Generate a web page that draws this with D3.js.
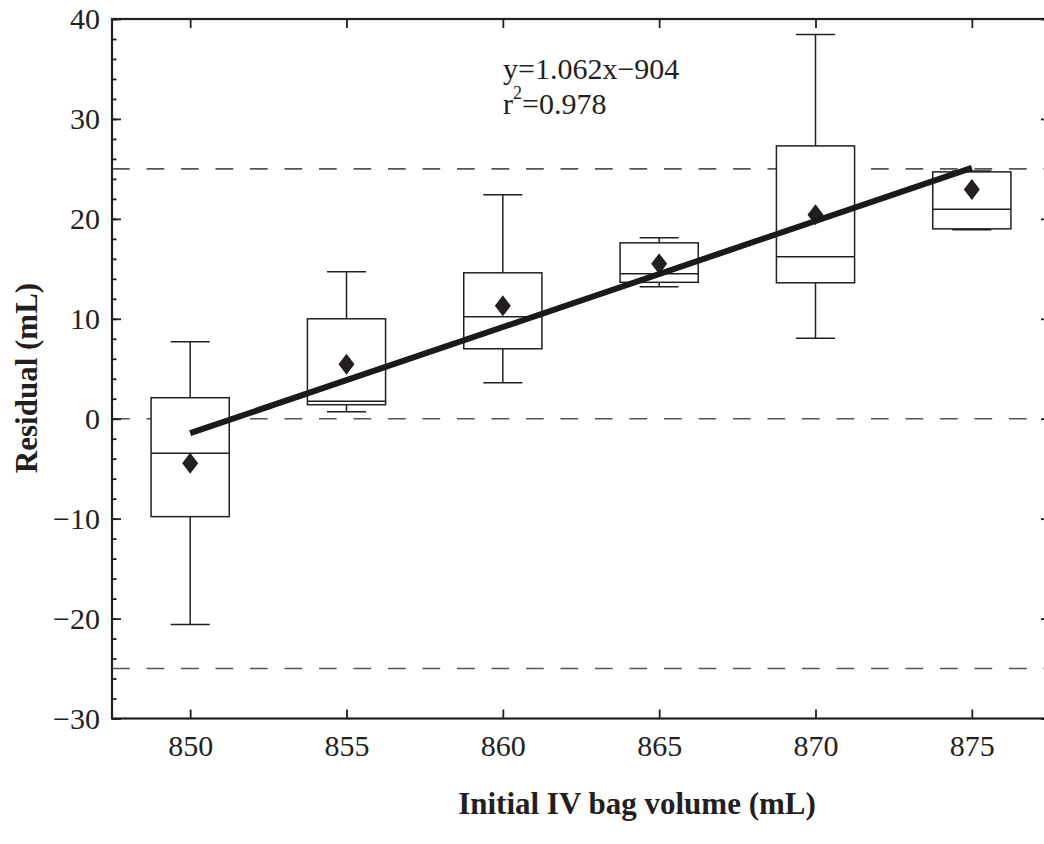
<!DOCTYPE html>
<html>
<head>
<meta charset="utf-8">
<script src="https://cdn.jsdelivr.net/npm/d3@7"></script>
<style>
  html, body { margin: 0; padding: 0; background: #fff; overflow: hidden; }
  svg { display: block; }
  svg text { font-family: "Liberation Serif", "Times New Roman", serif; fill: #231f20; }
</style>
</head>
<body>
<div id="chart"></div>
<script>
// box plot summaries per initial bag volume
const volumes = [850, 855, 860, 865, 870, 875];
const whiskerLow = [-20.6, 0.7, 3.6, 13.2, 8.05, 18.9];
const q1 = [-9.8, 1.4, 7.0, 13.65, 13.6, 19.0];
const medians = [-3.45, 1.75, 10.2, 14.5, 16.2, 20.95];
const q3 = [2.1, 10.0, 14.6, 17.6, 27.3, 24.7];
const whiskerHigh = [7.7, 14.7, 22.4, 18.1, 38.45, 24.8];
const means = [-4.45, 5.45, 11.3, 15.5, 20.4, 22.95];

// regression fit
const fitSlope = 1.062;
const fitIntercept = -904.15;
const fitRange = [850, 875];

const refLines = [25, 0, -25];
const xTicks = [850, 855, 860, 865, 870, 875];
const yTicks = [-30, -20, -10, 0, 10, 20, 30, 40];
const yMinorTicks = d3.range(-30, 41, 2);

const width = 1044, height = 844;
const ink = "#231f20";

const x = d3.scaleLinear().domain([847.5, 877.5]).range([112, 1050]);
const y = d3.scaleLinear().domain([-30, 40]).range([718.5, 19]);

const svg = d3.select("#chart")
    .append("svg")
    .attr("width", width)
    .attr("height", height);

const fmt = d => d < 0 ? "\u2212" + Math.abs(d) : String(d);

// dashed reference lines
svg.append("g")
    .selectAll("line")
    .data(refLines)
    .enter()
    .append("line")
    .attr("x1", x.range()[0])
    .attr("x2", x.range()[1])
    .attr("y1", d => y(d))
    .attr("y2", d => y(d))
    .attr("stroke", "#555")
    .attr("stroke-width", 1.6)
    .attr("stroke-dasharray", "17.7,16.8");

// boxes
const boxW = 1.25, capW = 0.625;
const boxes = svg.append("g")
    .selectAll("g")
    .data(volumes.map((v, i) => ({v, lo: whiskerLow[i], q1: q1[i], med: medians[i], q3: q3[i], hi: whiskerHigh[i], mean: means[i]})))
    .enter()
    .append("g")
    .attr("stroke", ink)
    .attr("stroke-width", 1.5)
    .attr("fill", "none");

boxes.append("line")
    .attr("x1", d => x(d.v)).attr("x2", d => x(d.v))
    .attr("y1", d => y(d.q3)).attr("y2", d => y(d.hi));
boxes.append("line")
    .attr("x1", d => x(d.v)).attr("x2", d => x(d.v))
    .attr("y1", d => y(d.q1)).attr("y2", d => y(d.lo));
boxes.append("line")
    .attr("x1", d => x(d.v - capW)).attr("x2", d => x(d.v + capW))
    .attr("y1", d => y(d.hi)).attr("y2", d => y(d.hi));
boxes.append("line")
    .attr("x1", d => x(d.v - capW)).attr("x2", d => x(d.v + capW))
    .attr("y1", d => y(d.lo)).attr("y2", d => y(d.lo));
boxes.append("rect")
    .attr("x", d => x(d.v - boxW))
    .attr("width", d => x(d.v + boxW) - x(d.v - boxW))
    .attr("y", d => y(d.q3))
    .attr("height", d => y(d.q1) - y(d.q3))
    .attr("fill", "#fff");
boxes.append("line")
    .attr("x1", d => x(d.v - boxW)).attr("x2", d => x(d.v + boxW))
    .attr("y1", d => y(d.med)).attr("y2", d => y(d.med));

// mean diamonds
boxes.append("path")
    .attr("d", d => {
        const cx = x(d.v), cy = y(d.mean);
        return "M" + cx + "," + (cy - 10.5) + "L" + (cx + 8) + "," + cy +
            "L" + cx + "," + (cy + 10.5) + "L" + (cx - 8) + "," + cy + "Z";
    })
    .attr("fill", ink)
    .attr("stroke", "none");

// fit line
svg.append("line")
    .attr("x1", x(fitRange[0]))
    .attr("y1", y(fitSlope * fitRange[0] + fitIntercept))
    .attr("x2", x(fitRange[1]))
    .attr("y2", y(fitSlope * fitRange[1] + fitIntercept))
    .attr("stroke", "#1a1a1a")
    .attr("stroke-width", 6);

// axes with inward ticks
const axisStyle = g => {
    g.select(".domain").remove();
    g.selectAll("line").attr("stroke", ink).attr("stroke-width", 1.8);
    g.selectAll("text").attr("font-size", 30).attr("fill", ink)
        .attr("font-family", '"Liberation Serif", "Times New Roman", serif');
};

svg.append("g")
    .attr("transform", "translate(0," + y.range()[0] + ")")
    .call(d3.axisBottom(x).tickValues(xTicks).tickFormat(fmt)
        .tickSizeInner(-9).tickSizeOuter(0).tickPadding(16))
    .call(axisStyle);
svg.append("g")
    .attr("transform", "translate(0," + y.range()[1] + ")")
    .call(d3.axisTop(x).tickValues(xTicks).tickFormat("")
        .tickSizeInner(-9).tickSizeOuter(0))
    .call(axisStyle);

svg.append("g")
    .attr("transform", "translate(" + x.range()[0] + ",0)")
    .call(d3.axisLeft(y).tickValues(yTicks).tickFormat(fmt)
        .tickSizeInner(-9).tickSizeOuter(0).tickPadding(12))
    .call(axisStyle);
svg.append("g")
    .attr("transform", "translate(" + x.range()[0] + ",0)")
    .call(d3.axisLeft(y).tickValues(yMinorTicks).tickFormat("")
        .tickSizeInner(-4.5).tickSizeOuter(0))
    .call(axisStyle);
svg.append("g")
    .attr("transform", "translate(" + x.range()[1] + ",0)")
    .call(d3.axisRight(y).tickValues(yTicks).tickFormat("")
        .tickSizeInner(-9).tickSizeOuter(0))
    .call(axisStyle);
svg.append("g")
    .attr("transform", "translate(" + x.range()[1] + ",0)")
    .call(d3.axisRight(y).tickValues(yMinorTicks).tickFormat("")
        .tickSizeInner(-4.5).tickSizeOuter(0))
    .call(axisStyle);

// frame
svg.append("rect")
    .attr("x", x.range()[0])
    .attr("y", y.range()[1])
    .attr("width", x.range()[1] - x.range()[0])
    .attr("height", y.range()[0] - y.range()[1])
    .attr("fill", "none")
    .attr("stroke", ink)
    .attr("stroke-width", 2.2);

// equation
const eq = svg.append("g").attr("font-size", 30);
eq.append("text").attr("x", 503).attr("y", 79).text("y=1.062x\u2212904");
const r2 = eq.append("text").attr("x", 503).attr("y", 114);
r2.append("tspan").text("r");
r2.append("tspan").attr("font-size", 18).attr("dy", -15).text("2");
r2.append("tspan").attr("dy", 15).text("=0.978");

// axis titles
svg.append("text")
    .attr("x", 637)
    .attr("y", 814)
    .attr("text-anchor", "middle")
    .attr("font-size", 31)
    .attr("font-weight", "bold")
    .text("Initial IV bag volume (mL)");

svg.append("text")
    .attr("transform", "translate(37,378) rotate(-90)")
    .attr("text-anchor", "middle")
    .attr("font-size", 31)
    .attr("font-weight", "bold")
    .text("Residual (mL)");
</script>
</body>
</html>
